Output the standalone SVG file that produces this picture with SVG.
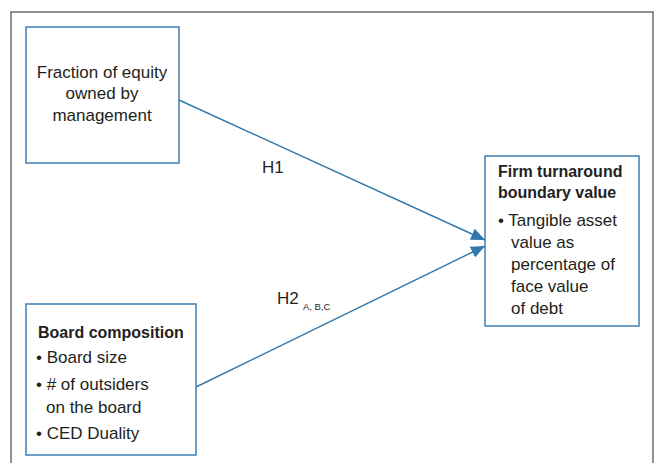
<svg xmlns="http://www.w3.org/2000/svg" width="660" height="463" viewBox="0 0 660 463">
<style>
.frame{fill:none;stroke:#6e6e6e;stroke-width:1.5}
.box{fill:#fff;stroke:#3f7fb2;stroke-width:1.5}
.t{font-family:"Liberation Sans",Arial,sans-serif;font-size:17px;fill:#231f20}
.b{font-weight:bold;font-size:16px}
.c{text-anchor:middle}
.lbl{font-family:"Liberation Sans",Arial,sans-serif;font-size:17px;fill:#231f20}
.sub{font-family:"Liberation Sans",Arial,sans-serif;font-size:9.5px;fill:#231f20}
.edge{fill:none;stroke:#2f78aa;stroke-width:1.4}
</style>
<defs>
<marker id="ah" viewBox="0 0 14 12" refX="14" refY="6" markerWidth="14" markerHeight="12" markerUnits="userSpaceOnUse" orient="auto">
<path d="M0,0 L14,6 L0,12 z" fill="#2f78aa"/>
</marker>
</defs>
<rect width="660" height="463" fill="#fff"/>
<path class="frame" d="M11,470 V12 H653 V470"/>
<g id="connectors">
<line class="edge" x1="179" y1="100" x2="485" y2="240" marker-end="url(#ah)"/>
<line class="edge" x1="196" y1="387" x2="485" y2="246" marker-end="url(#ah)"/>
<text class="lbl" x="262" y="173">H1</text>
<text class="lbl" x="277" y="304">H2</text>
<text class="sub" x="303" y="310">A, B,C</text>
</g>
<g id="equity">
<rect class="box" x="26" y="27" width="153" height="136"/>
<text class="t c" x="102" y="78">Fraction of equity</text>
<text class="t c" x="102" y="99">owned by</text>
<text class="t c" x="102" y="121">management</text>
</g>
<g id="board">
<rect class="box" x="26" y="304" width="170" height="151"/>
<text class="t b" x="38" y="338">Board composition</text>
<text class="t" x="36" y="363">• Board size</text>
<text class="t" x="36" y="390">• # of outsiders</text>
<text class="t" x="46" y="413">on the board</text>
<text class="t" x="36" y="439">• CED Duality</text>
</g>
<g id="firm">
<rect class="box" x="485" y="156" width="154" height="170"/>
<text class="t b" x="498" y="177">Firm turnaround</text>
<text class="t b" x="498" y="198">boundary value</text>
<text class="t" x="498" y="226">• Tangible asset</text>
<text class="t" x="511" y="248">value as</text>
<text class="t" x="511" y="270">percentage of</text>
<text class="t" x="511" y="292">face value</text>
<text class="t" x="511" y="314">of debt</text>
</g>
</svg>
